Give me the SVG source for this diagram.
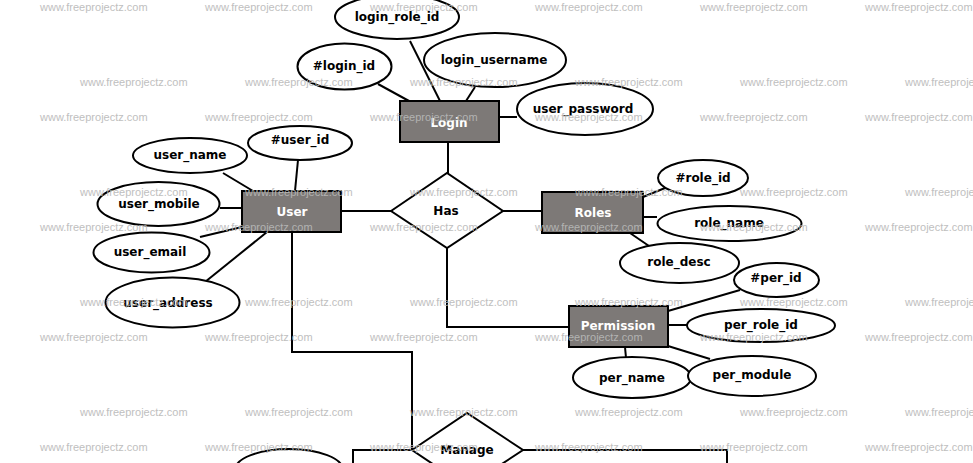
<svg xmlns="http://www.w3.org/2000/svg" width="973" height="463" viewBox="0 0 973 463">
  <style>
    .bg { fill: #ffffff; }
    .entity rect { fill: #7d7977; stroke: #000; stroke-width: 2; }
    .entity text { fill: #ffffff; font-family: "DejaVu Sans", "Liberation Sans", sans-serif; font-weight: bold; font-size: 12px; text-anchor: middle; dominant-baseline: central; }
    .attr ellipse { fill: #ffffff; stroke: #000; stroke-width: 2; }
    .attr text, .rel text { fill: #000; font-family: "DejaVu Sans", "Liberation Sans", sans-serif; font-weight: bold; font-size: 12px; text-anchor: middle; dominant-baseline: central; }
    .rel polygon { fill: #ffffff; stroke: #000; stroke-width: 2; stroke-linejoin: miter; }
    .links line, .links polyline { stroke: #000; stroke-width: 2; fill: none; }
    .wm text { fill: #b9b9b9; font-family: "Liberation Sans", Arial, sans-serif; font-size: 11px; dominant-baseline: central; opacity: 0.9; }
  </style>

  <rect class="bg" x="0" y="0" width="973" height="463"/>

  <!-- connectors -->
  <g class="links" id="connectors">
    <line x1="378" y1="84" x2="409" y2="101"/>
    <line x1="410" y1="41" x2="440" y2="101"/>
    <line x1="475" y1="87" x2="466" y2="101"/>
    <line x1="499" y1="117" x2="517" y2="117"/>
    <line x1="448" y1="142" x2="448" y2="173"/>
    <line x1="298" y1="160" x2="295" y2="191"/>
    <line x1="223" y1="173" x2="253" y2="191"/>
    <line x1="220" y1="208" x2="242" y2="208"/>
    <line x1="200" y1="237" x2="242" y2="227"/>
    <line x1="205" y1="282" x2="267" y2="232"/>
    <polyline points="292,232 292,352 412,352 412,450"/>
    <line x1="341" y1="211" x2="391" y2="211"/>
    <line x1="503" y1="211" x2="542" y2="211"/>
    <polyline points="447,248 447,327 569,327"/>
    <line x1="643" y1="197" x2="665" y2="188"/>
    <line x1="643" y1="217" x2="657" y2="217"/>
    <line x1="630" y1="233" x2="649" y2="246"/>
    <line x1="668" y1="311" x2="740" y2="290"/>
    <line x1="668" y1="325" x2="687" y2="325"/>
    <line x1="668" y1="346" x2="710" y2="359"/>
    <line x1="625" y1="347" x2="626" y2="358"/>
    <polyline points="353,475 353,450 412,450"/>
    <polyline points="523,450 727,450 727,475"/>
  </g>

  <!-- Login entity and attributes -->
  <g class="attr" id="attr-login_role_id"><ellipse cx="397" cy="17" rx="62" ry="22"/><text x="397" y="17">login_role_id</text></g>
  <g class="attr" id="attr-login_id"><ellipse cx="344.5" cy="66.5" rx="47" ry="23"/><text x="344" y="66">#login_id</text></g>
  <g class="attr" id="attr-login_username"><ellipse cx="495" cy="60" rx="71" ry="27"/><text x="494" y="60">login_username</text></g>
  <g class="attr" id="attr-user_password"><ellipse cx="585" cy="109" rx="68" ry="26"/><text x="583" y="109">user_password</text></g>
  <g class="entity" id="entity-login"><rect x="400" y="101" width="99" height="41"/><text x="449" y="123">Login</text></g>

  <!-- User entity and attributes -->
  <g class="attr" id="attr-user_id"><ellipse cx="300" cy="143" rx="52" ry="17"/><text x="300" y="140">#user_id</text></g>
  <g class="attr" id="attr-user_name"><ellipse cx="190" cy="155.5" rx="57" ry="17.5"/><text x="190" y="155">user_name</text></g>
  <g class="attr" id="attr-user_mobile"><ellipse cx="158.5" cy="204" rx="61" ry="22"/><text x="159" y="204">user_mobile</text></g>
  <g class="attr" id="attr-user_email"><ellipse cx="151.5" cy="252.5" rx="58" ry="20"/><text x="150" y="252">user_email</text></g>
  <g class="attr" id="attr-user_address"><ellipse cx="172.5" cy="302.5" rx="67" ry="25"/><text x="168" y="303">user_address</text></g>
  <g class="entity" id="entity-user"><rect x="242" y="191" width="99" height="41"/><text x="292" y="212">User</text></g>

  <!-- Has relationship -->
  <g class="rel" id="rel-has"><polygon points="391,211 447,173 503,211 447,248"/><text x="446" y="211">Has</text></g>

  <!-- Roles entity and attributes -->
  <g class="attr" id="attr-role_id"><ellipse cx="703" cy="178" rx="45" ry="18"/><text x="703" y="178">#role_id</text></g>
  <g class="attr" id="attr-role_name"><ellipse cx="729.5" cy="223.5" rx="72" ry="17.5"/><text x="729" y="223">role_name</text></g>
  <g class="attr" id="attr-role_desc"><ellipse cx="679.5" cy="263" rx="59.5" ry="20"/><text x="679" y="262">role_desc</text></g>
  <g class="entity" id="entity-roles"><rect x="542" y="192" width="101" height="41"/><text x="593" y="213">Roles</text></g>

  <!-- Permission entity and attributes -->
  <g class="attr" id="attr-per_id"><ellipse cx="776.5" cy="280" rx="42.5" ry="17"/><text x="776" y="278">#per_id</text></g>
  <g class="attr" id="attr-per_role_id"><ellipse cx="761" cy="325.5" rx="74" ry="16.5"/><text x="761" y="325">per_role_id</text></g>
  <g class="attr" id="attr-per_name"><ellipse cx="632" cy="377.5" rx="59" ry="20.5"/><text x="632" y="378">per_name</text></g>
  <g class="attr" id="attr-per_module"><ellipse cx="752" cy="376" rx="64" ry="20"/><text x="752" y="375">per_module</text></g>
  <g class="entity" id="entity-permission"><rect x="569" y="306" width="99" height="41"/><text x="618" y="326">Permission</text></g>

  <!-- Manage relationship -->
  <g class="rel" id="rel-manage"><polygon points="412,450 467,413 523,450 467,487"/><text x="467" y="450">Manage</text></g>

  <!-- attribute below the frame edge -->
  <g class="attr" id="attr-bottom"><ellipse cx="289" cy="470" rx="54" ry="21"/></g>

  <!-- watermark grid -->
  <g class="wm" id="watermark">
    <text x="40" y="7">www.freeprojectz.com</text><text x="205" y="7">www.freeprojectz.com</text><text x="370" y="7">www.freeprojectz.com</text><text x="535" y="7">www.freeprojectz.com</text><text x="700" y="7">www.freeprojectz.com</text><text x="865" y="7">www.freeprojectz.com</text>
    <text x="80" y="82">www.freeprojectz.com</text><text x="245" y="82">www.freeprojectz.com</text><text x="410" y="82">www.freeprojectz.com</text><text x="575" y="82">www.freeprojectz.com</text><text x="740" y="82">www.freeprojectz.com</text><text x="905" y="82">www.freeprojectz.com</text>
    <text x="40" y="117">www.freeprojectz.com</text><text x="205" y="117">www.freeprojectz.com</text><text x="370" y="117">www.freeprojectz.com</text><text x="535" y="117">www.freeprojectz.com</text><text x="700" y="117">www.freeprojectz.com</text><text x="865" y="117">www.freeprojectz.com</text>
    <text x="80" y="192">www.freeprojectz.com</text><text x="245" y="192">www.freeprojectz.com</text><text x="410" y="192">www.freeprojectz.com</text><text x="575" y="192">www.freeprojectz.com</text><text x="740" y="192">www.freeprojectz.com</text><text x="905" y="192">www.freeprojectz.com</text>
    <text x="40" y="227">www.freeprojectz.com</text><text x="205" y="227">www.freeprojectz.com</text><text x="370" y="227">www.freeprojectz.com</text><text x="535" y="227">www.freeprojectz.com</text><text x="700" y="227">www.freeprojectz.com</text><text x="865" y="227">www.freeprojectz.com</text>
    <text x="80" y="302">www.freeprojectz.com</text><text x="245" y="302">www.freeprojectz.com</text><text x="410" y="302">www.freeprojectz.com</text><text x="575" y="302">www.freeprojectz.com</text><text x="740" y="302">www.freeprojectz.com</text><text x="905" y="302">www.freeprojectz.com</text>
    <text x="40" y="337">www.freeprojectz.com</text><text x="205" y="337">www.freeprojectz.com</text><text x="370" y="337">www.freeprojectz.com</text><text x="535" y="337">www.freeprojectz.com</text><text x="700" y="337">www.freeprojectz.com</text><text x="865" y="337">www.freeprojectz.com</text>
    <text x="80" y="412">www.freeprojectz.com</text><text x="245" y="412">www.freeprojectz.com</text><text x="410" y="412">www.freeprojectz.com</text><text x="575" y="412">www.freeprojectz.com</text><text x="740" y="412">www.freeprojectz.com</text><text x="905" y="412">www.freeprojectz.com</text>
    <text x="40" y="447">www.freeprojectz.com</text><text x="205" y="447">www.freeprojectz.com</text><text x="370" y="447">www.freeprojectz.com</text><text x="535" y="447">www.freeprojectz.com</text><text x="700" y="447">www.freeprojectz.com</text><text x="865" y="447">www.freeprojectz.com</text>
  </g>
</svg>
